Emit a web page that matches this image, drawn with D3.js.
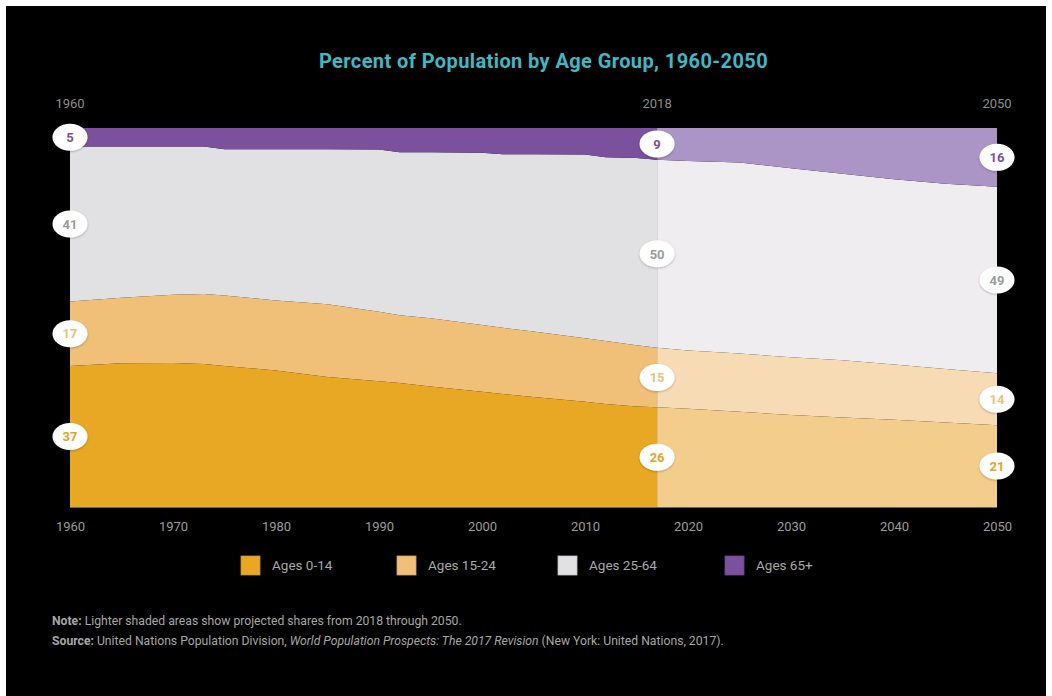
<!DOCTYPE html>
<html>
<head>
<meta charset="utf-8">
<script src="https://cdn.jsdelivr.net/npm/d3@7"></script>
<style>
  html, body { margin: 0; padding: 0; background: #fff; }
  svg { display: block; font-family: Roboto, "Noto Sans", sans-serif; }
</style>
</head>
<body>
<div id="chart"></div>
<script>
// shares of population (%); 2017 is the last historical point
const years = [1960, 1965, 1970, 1973, 1975, 1980, 1985, 1990, 1992, 1995, 2000, 2002, 2005,
  2010, 2012, 2015, 2017, 2020, 2025, 2030, 2035, 2040, 2045, 2050];
const ages0to14 = [37.2, 37.9, 38.0, 37.7, 37.2, 36.0, 34.3, 33.2, 32.7, 31.8, 30.4, 29.8, 29.0,
  27.8, 27.2, 26.5, 26.3, 25.9, 25.1, 24.3, 23.6, 23.0, 22.3, 21.6];
const ages15to24 = [17.0, 17.3, 18.0, 18.5, 18.6, 18.5, 19.2, 18.3, 17.9, 18.0, 17.6, 17.5, 17.3,
  16.7, 16.6, 16.2, 15.7, 15.4, 15.4, 15.2, 15.1, 14.6, 14.1, 13.7];
const ages25to64 = [40.9, 39.9, 39.1, 38.9, 38.6, 39.9, 40.9, 42.8, 43.0, 43.8, 45.5, 45.8, 46.8,
  48.5, 48.5, 49.4, 49.6, 50.0, 50.4, 49.9, 49.2, 48.9, 48.9, 49.2];
const ages65plus = [4.9, 4.9, 4.9, 4.9, 5.6, 5.6, 5.6, 5.7, 6.4, 6.4, 6.5, 6.9, 6.9,
  7.0, 7.7, 7.9, 8.4, 8.7, 9.1, 10.6, 12.1, 13.5, 14.7, 15.5];

const groups = ['Ages 0-14', 'Ages 15-24', 'Ages 25-64', 'Ages 65+'];
const splitYear = 2017;

// bubble labels at 1960, 2018 and 2050
const markYears = [1960, 2017, 2050];
const markTitles = ['1960', '2018', '2050'];
const labels0to14 = [37, 26, 21];
const labels15to24 = [17, 15, 14];
const labels25to64 = [41, 50, 49];
const labels65plus = [5, 9, 16];

const xTicks = [1960, 1970, 1980, 1990, 2000, 2010, 2020, 2030, 2040, 2050];

const histColors = ['#e8a823', '#f0bf78', '#e1e0e3', '#7b519e'];
const projColors = ['#f3cd8c', '#f6dbb5', '#efedef', '#ab95c7'];
const labelColors = ['#e2a52a', '#f0bf78', '#9c9c9c', '#7b519e'];

const W = 1052;
const H = 696;

const rows = years.map((yr, i)=> ({
  year: yr,
  [groups[0]]: ages0to14[i],
  [groups[1]]: ages15to24[i],
  [groups[2]]: ages25to64[i],
  [groups[3]]: ages65plus[i]
}));
const labelSets = [labels0to14, labels15to24, labels25to64, labels65plus];

const svg = d3.select('#chart').append('svg')
  .attr('width', W)
  .attr('height', H);

svg.append('rect')
  .attr('x', 6).attr('y', 6)
  .attr('width', 1040).attr('height', 690)
  .attr('fill', '#000');

const defs = svg.append('defs');
const shadow = defs.append('filter').attr('id', 'shadow')
  .attr('x', '-30%').attr('y', '-30%').attr('width', '160%').attr('height', '160%');
shadow.append('feDropShadow')
  .attr('dx', 0).attr('dy', 1).attr('stdDeviation', 1.2)
  .attr('flood-color', '#000').attr('flood-opacity', 0.25);

const x = d3.scaleLinear().domain([1960, 2050]).range([70, 997]);
const y = d3.scaleLinear().domain([0, 100]).range([507, 128]);

const stack = d3.stack().keys(groups);
const series = stack(rows);

const area = d3.area()
  .x((d)=> x(d.data.year))
  .y0((d)=> y(d[0]))
  .y1((d)=> y(d[1]))
  .curve(d3.curveLinear);

// historical part
const hist = svg.append('g').attr('class', 'hist');
hist.selectAll('path')
  .data(series)
  .enter()
  .append('path')
  .attr('fill', (d, i)=> histColors[i])
  .attr('d', (d)=> area(d.filter((p)=> p.data.year <= splitYear)));

// projected part
const proj = svg.append('g').attr('class', 'proj');
proj.selectAll('path')
  .data(series)
  .enter()
  .append('path')
  .attr('fill', (d, i)=> projColors[i])
  .attr('d', (d)=> area(d.filter((p)=> p.data.year >= splitYear)));

// baseline
svg.append('line')
  .attr('x1', x(1960)).attr('x2', x(2050))
  .attr('y1', y(0) + 0.5).attr('y2', y(0) + 0.5)
  .attr('stroke', '#666').attr('stroke-width', 1);

// bottom axis
const xAxis = svg.append('g')
  .attr('transform', `translate(0,${y(0)})`)
  .call(d3.axisBottom(x).tickValues(xTicks).tickFormat(d3.format('d')).tickSize(0).tickPadding(15));
xAxis.select('.domain').remove();
xAxis.selectAll('text')
  .attr('fill', '#9a9a9a')
  .style('font-size', '13px')
  .style('font-family', 'Roboto, sans-serif');

// top year marks
svg.append('g').selectAll('text')
  .data(markYears)
  .enter()
  .append('text')
  .attr('x', (d)=> x(d))
  .attr('y', 108)
  .attr('text-anchor', 'middle')
  .attr('fill', '#8c8c8c')
  .style('font-size', '13px')
  .text((d, i)=> markTitles[i]);

// bubble labels
const bubbles = [];
series.forEach((s, gi)=> {
  markYears.forEach((yr, mi)=> {
    const pt = s.find((p)=> p.data.year === yr);
    bubbles.push({
      cx: x(yr),
      cy: y((pt[0] + pt[1]) / 2),
      text: labelSets[gi][mi],
      color: labelColors[gi]
    });
  });
});

const bg = svg.append('g').attr('class', 'bubbles')
  .selectAll('g')
  .data(bubbles)
  .enter()
  .append('g')
  .attr('transform', (d)=> `translate(${d.cx},${d.cy})`);
bg.append('ellipse')
  .attr('rx', 17.5).attr('ry', 13.5)
  .attr('fill', '#fff')
  .attr('filter', 'url(#shadow)');
bg.append('text')
  .attr('text-anchor', 'middle')
  .attr('dy', '0.36em')
  .attr('fill', (d)=> d.color)
  .style('font-size', '13px')
  .style('font-weight', 700)
  .text((d)=> d.text);

// title
svg.append('text')
  .attr('x', 543.5)
  .attr('y', 68)
  .attr('text-anchor', 'middle')
  .attr('fill', '#3fb8c3')
  .style('font-size', '20px')
  .style('letter-spacing', '0.4px')
  .style('font-weight', 700)
  .text('Percent of Population by Age Group, 1960-2050');

// legend
const legendX = [241, 397, 558, 725];
const lg = svg.append('g').attr('class', 'legend')
  .selectAll('g')
  .data(groups)
  .enter()
  .append('g')
  .attr('transform', (d, i)=> `translate(${legendX[i]},556)`);
lg.append('rect')
  .attr('width', 19).attr('height', 19)
  .attr('fill', (d, i)=> histColors[i])
  .attr('stroke', (d, i)=> d3.color(histColors[i]).darker(0.4))
  .attr('stroke-width', 0.8);
lg.append('text')
  .attr('x', 31)
  .attr('y', 14)
  .attr('fill', '#a8a8a8')
  .style('font-size', '13.5px')
  .text((d)=> d);

// footnotes
const note = svg.append('text')
  .attr('x', 52).attr('y', 625)
  .attr('fill', '#a6a6a6')
  .style('font-size', '12.2px');
note.append('tspan').style('font-weight', 700).text('Note:');
note.append('tspan').text(' Lighter shaded areas show projected shares from 2018 through 2050.');

const source = svg.append('text')
  .attr('x', 52).attr('y', 645)
  .attr('fill', '#a6a6a6')
  .style('font-size', '12.2px');
source.append('tspan').style('font-weight', 700).text('Source:');
source.append('tspan').text(' United Nations Population Division, ');
source.append('tspan').style('font-style', 'italic').text('World Population Prospects: The 2017 Revision');
source.append('tspan').text(' (New York: United Nations, 2017).');
</script>
</body>
</html>
